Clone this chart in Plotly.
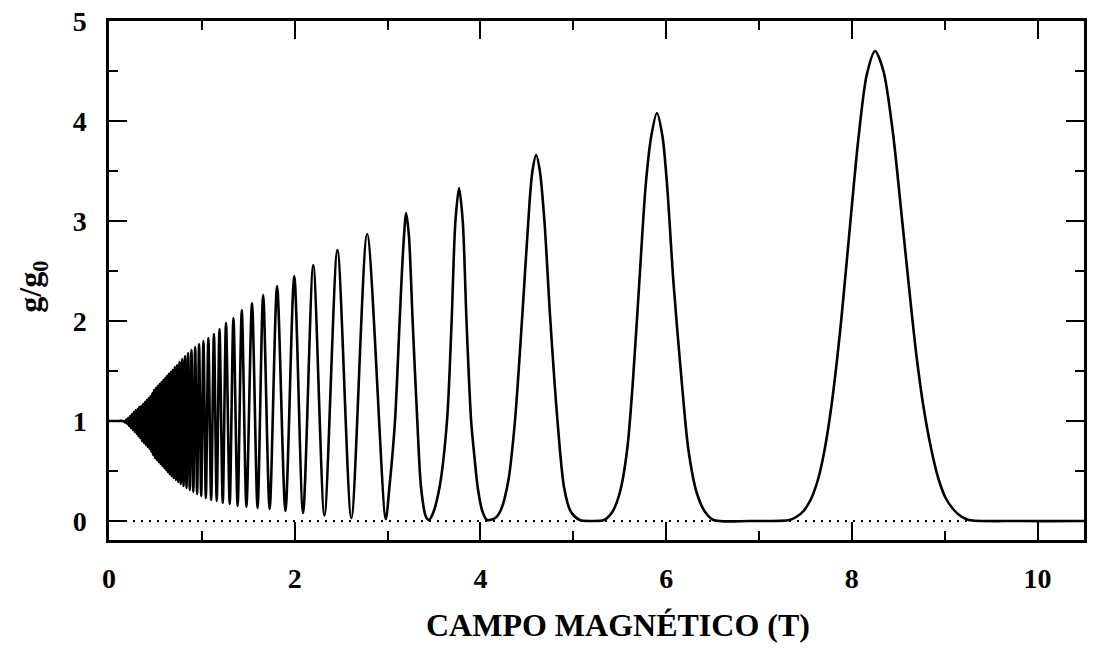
import plotly.graph_objects as go

# Oscillation maxima: field (T) and normalised conductance
peak_B = [0.186, 0.206, 0.226, 0.246, 0.266, 0.286, 0.306, 0.326, 0.346, 0.366,
          0.386, 0.406, 0.426, 0.446, 0.466, 0.486, 0.506, 0.526, 0.546, 0.566,
          0.586, 0.606, 0.624, 0.643, 0.664, 0.685, 0.708, 0.733, 0.759, 0.788,
          0.819, 0.852, 0.888, 0.928, 0.970, 1.017, 1.07, 1.13, 1.19, 1.26,
          1.34, 1.43, 1.54, 1.66, 1.81, 1.995, 2.20, 2.46, 2.78, 3.20,
          3.77, 4.60, 5.90, 8.25]
peak_g = [1.015, 1.03, 1.05, 1.07, 1.09, 1.11, 1.12, 1.14, 1.15, 1.17,
          1.19, 1.21, 1.23, 1.25, 1.28, 1.31, 1.33, 1.35, 1.37, 1.39,
          1.41, 1.43, 1.45, 1.47, 1.49, 1.51, 1.54, 1.56, 1.59, 1.62,
          1.65, 1.68, 1.71, 1.74, 1.77, 1.80, 1.83, 1.87, 1.92, 1.98,
          2.03, 2.11, 2.18, 2.26, 2.35, 2.45, 2.56, 2.71, 2.87, 3.08,
          3.33, 3.66, 4.08, 4.70]

# Oscillation minima
valley_B = [0.176, 0.196, 0.216, 0.236, 0.256, 0.276, 0.296, 0.316, 0.336, 0.356,
            0.376, 0.396, 0.416, 0.436, 0.456, 0.476, 0.496, 0.516, 0.536, 0.556,
            0.576, 0.596, 0.615, 0.633, 0.653, 0.674, 0.696, 0.720, 0.746, 0.773,
            0.803, 0.835, 0.870, 0.908, 0.949, 0.993, 1.043, 1.10, 1.16, 1.225,
            1.30, 1.385, 1.48, 1.60, 1.73, 1.90, 2.09, 2.32, 2.61, 2.98]
valley_g = [0.985, 0.97, 0.95, 0.93, 0.91, 0.89, 0.87, 0.85, 0.83, 0.80,
            0.78, 0.76, 0.74, 0.72, 0.69, 0.66, 0.63, 0.61, 0.59, 0.57,
            0.55, 0.53, 0.51, 0.49, 0.47, 0.45, 0.43, 0.41, 0.39, 0.37,
            0.35, 0.33, 0.31, 0.29, 0.27, 0.25, 0.23, 0.21, 0.20, 0.18,
            0.17, 0.15, 0.14, 0.13, 0.12, 0.10, 0.08, 0.055, 0.03, 0.02]

# Flanks of the well-resolved high-field peaks
flank_B = [3.02, 3.08, 3.13, 3.17, 3.23, 3.27, 3.32, 3.36, 3.41,
           3.49, 3.56, 3.64, 3.69, 3.73, 3.81, 3.85, 3.90, 3.94, 3.97, 4.02, 4.07,
           4.16, 4.22, 4.30, 4.37, 4.45, 4.53, 4.56, 4.64, 4.69, 4.75, 4.83, 4.90, 4.97, 5.07,
           5.33, 5.42, 5.50, 5.58, 5.64, 5.71, 5.78, 5.84, 5.96, 6.01, 6.08, 6.17, 6.24, 6.33, 6.42, 6.51,
           7.33, 7.40, 7.48, 7.56, 7.64, 7.71, 7.78, 7.84, 7.89, 7.98, 8.07, 8.16,
           8.34, 8.44, 8.54, 8.64, 8.70, 8.77, 8.85, 8.93, 9.01, 9.09, 9.17, 9.26]
flank_g = [0.34, 1.0, 2.0, 2.75, 2.85, 2.0, 1.0, 0.34, 0.05,
           0.08, 0.34, 1.0, 2.0, 2.99, 2.99, 2.0, 1.0, 0.6, 0.34, 0.10, 0.01,
           0.03, 0.11, 0.40, 0.98, 2.04, 3.20, 3.50, 3.50, 2.99, 2.05, 1.0, 0.34, 0.10, 0.01,
           0.01, 0.09, 0.28, 0.71, 1.37, 2.37, 3.36, 3.85, 3.85, 3.36, 2.37, 1.37, 0.71, 0.28, 0.09, 0.01,
           0.01, 0.04, 0.10, 0.22, 0.43, 0.73, 1.15, 1.61, 2.05, 2.95, 3.82, 4.46,
           4.50, 3.90, 3.02, 2.12, 1.62, 1.15, 0.74, 0.43, 0.23, 0.12, 0.05, 0.01]

# Plateaus: unity at zero field, zero between the quantised peaks
flat_B = [0.0, 0.08, 0.15, 3.445, 5.20, 6.90, 9.80, 10.5]
flat_g = [1.0, 1.0, 1.0, 0.01, 0.0, 0.0, 0.0, 0.0]

pts = sorted(zip(peak_B + valley_B + flank_B + flat_B,
                 peak_g + valley_g + flank_g + flat_g))
field = [p[0] for p in pts]
g_ratio = [p[1] for p in pts]

fig = go.Figure()
fig.add_trace(go.Scatter(
    x=[0, 10.5], y=[0, 0], mode="lines",
    line=dict(color="black", width=2, dash="2px,6px"),
    hoverinfo="skip", showlegend=False))
fig.add_trace(go.Scatter(
    x=field, y=g_ratio, mode="lines",
    line=dict(color="black", width=2.6, shape="spline", smoothing=0.8),
    showlegend=False))

tick_font = dict(family="Liberation Serif", size=28, color="black", weight="bold")
axis_common = dict(
    showline=True, linewidth=2.5, linecolor="black", mirror="allticks",
    ticks="inside", tickwidth=2, tickcolor="black", ticklen=18,
    showgrid=False, zeroline=False, tickfont=tick_font)

fig.update_xaxes(range=[0, 10.5], tick0=0, dtick=2, ticklabelstandoff=12,
                 minor=dict(ticks="inside", ticklen=9, tickwidth=2, tickcolor="black", dtick=1, tick0=0),
                 **axis_common)
fig.update_yaxes(range=[-0.19, 5.0], tick0=0, dtick=1, ticklabelstandoff=14,
                 minor=dict(ticks="inside", ticklen=9, tickwidth=2, tickcolor="black", dtick=0.5, tick0=0),
                 **axis_common)

fig.add_annotation(text="<b>CAMPO MAGNÉTICO (T)</b>", xref="paper", yref="paper",
                   x=0.5225, y=-0.163, showarrow=False, xanchor="center", yanchor="middle",
                   font=dict(family="Liberation Serif", size=32, color="black"))
fig.add_annotation(text="<b>g/g<sub>0</sub></b>", xref="paper", yref="paper",
                   x=-0.0787, y=0.4885, showarrow=False, textangle=-90,
                   xanchor="center", yanchor="middle",
                   font=dict(family="Liberation Serif", size=32, color="black"))

fig.update_layout(
    width=1093, height=660,
    margin=dict(l=109, r=6, t=18, b=120),
    plot_bgcolor="white", paper_bgcolor="white",
)

fig.write_html("out.html")
